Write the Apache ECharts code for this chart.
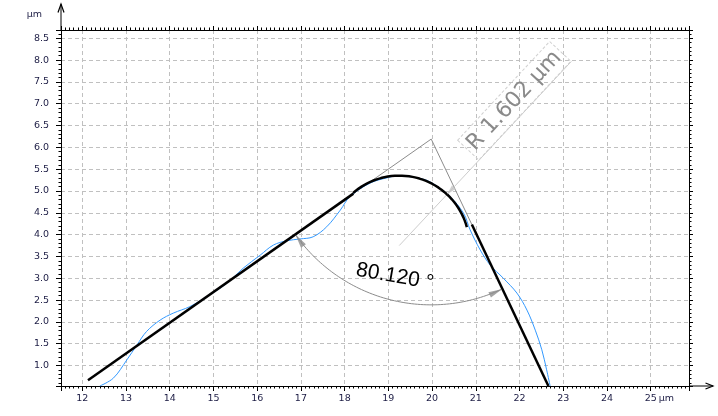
<!DOCTYPE html>
<html><head><meta charset="utf-8">
<script src="https://cdn.jsdelivr.net/npm/echarts@6/dist/echarts.min.js"></script>
<style>html,body{margin:0;padding:0;background:#fff}#c{width:718px;height:416px}</style>
</head><body><div id="c"></div>
<script>
// ---- data ----
const profileX = [12.40,12.71,13.02,13.25,13.47,13.78,14.08,14.46,14.85,15.30,15.68,16.07,16.37,16.68,16.98,17.28,17.59,17.90,18.12,18.58,19.00,19.23,19.60,19.95,20.41,20.72,20.87,21.10,21.33,21.63,21.94,22.17,22.36,22.51,22.62,22.70];
const profileY = [0.53,0.71,1.13,1.47,1.78,2.04,2.20,2.35,2.58,2.88,3.23,3.53,3.76,3.86,3.90,3.95,4.18,4.56,4.87,5.18,5.31,5.35,5.31,5.21,4.87,4.49,4.11,3.65,3.30,3.00,2.66,2.27,1.81,1.36,0.90,0.53];
const leftFitX = [12.13, 18.20];
const leftFitY = [0.66, 4.94];
const rightFitX = [20.91, 22.66];
const rightFitY = [4.23, 0.53];
const apexPoint = [19.98, 6.19];
const circleCenter = [19.25, 3.75];
const circleRadius = 1.602;
const circleArcDeg = [131.3, 15.3];
const angleValue = 80.120;
const angleArcRadius = 3.80;
const angleLabelDist = 3.26;
const radiusLineDeg = 47;
const radiusLineLength = 5.77;
const radiusLabelAlong = 4.22;
const radiusLabelNormal = 0.34;
const xRange = [11.513, 25.876];
const yRange = [0.53, 8.69];
const xTickValues = [12,13,14,15,16,17,18,19,20,21,22,23,24,25];
const xTickLabels = ['12','13','14','15','16','17','18','19','20','21','22','23','24','25'];
const yTickValues = [1.0,1.5,2.0,2.5,3.0,3.5,4.0,4.5,5.0,5.5,6.0,6.5,7.0,7.5,8.0,8.5];
const yTickLabels = ['1.0','1.5','2.0','2.5','3.0','3.5','4.0','4.5','5.0','5.5','6.0','6.5','7.0','7.5','8.0','8.5'];
const unitText = 'µm';

// ---- helpers ----
const D = Math.PI/180;
function zip(a,b){return a.map((v,i)=>[v,b[i]]);}
function arcPts(c,r,a0,a1,n){const p=[];for(let i=0;i<=n;i++){const a=(a0+(a1-a0)*i/n)*D;p.push([c[0]+r*Math.cos(a),c[1]+r*Math.sin(a)]);}return p;}
function lookup(vals,labels,v){for(let i=0;i<vals.length;i++){if(Math.abs(vals[i]-v)<1e-6)return labels[i];}return '';}

const a0 = Math.atan2(leftFitY[0]-apexPoint[1], leftFitX[0]-apexPoint[0])/D + 360;
const a1 = Math.atan2(rightFitY[1]-apexPoint[1], rightFitX[1]-apexPoint[0])/D + 360;

function arrowItem(tip, dirDeg, halfLen, size, color){
  const d=[Math.cos(dirDeg*D),Math.sin(dirDeg*D)];
  return {value:[tip[0]-halfLen*d[0], tip[1]-halfLen*d[1]], symbolRotate: dirDeg-90, symbolSize:size, itemStyle:{color:color}};
}
const pL=[apexPoint[0]+angleArcRadius*Math.cos(a0*D), apexPoint[1]+angleArcRadius*Math.sin(a0*D)];
const pR=[apexPoint[0]+angleArcRadius*Math.cos(a1*D), apexPoint[1]+angleArcRadius*Math.sin(a1*D)];
const dirL = Math.atan2(-Math.cos(a0*D), Math.sin(a0*D))/D;
const dirR = Math.atan2(Math.cos(a1*D), -Math.sin(a1*D))/D;
const rq=[circleCenter[0]+circleRadius*Math.cos(radiusLineDeg*D), circleCenter[1]+circleRadius*Math.sin(radiusLineDeg*D)];
const rEnd=[circleCenter[0]+radiusLineLength*Math.cos(radiusLineDeg*D), circleCenter[1]+radiusLineLength*Math.sin(radiusLineDeg*D)];

const labelFont = 'DejaVu Sans';
const labelColor = '#1c1c44';
function axisBase(extra){
  return Object.assign({
    type:'value', scale:true,
    axisLine:{show:true,onZero:false,lineStyle:{color:'#000',width:1}},
    axisTick:{show:true,inside:false,length:5,lineStyle:{color:'#000',width:1}},
    splitLine:{show:false},
    minorSplitLine:{show:false},
    axisLabel:{show:false},
  }, extra);
}
const gridSplit = {show:true,lineStyle:{color:'#c0c0c0',width:1,type:[4,3]}};

const option = {
  animation:false,
  backgroundColor:'#fff',
  grid:{left:61,right:29,top:30,bottom:30,containLabel:false,outerBoundsMode:'none'},
  xAxis:[
    axisBase({position:'bottom',min:xRange[0],max:xRange[1],splitNumber:14,minInterval:1,maxInterval:1,
      minorTick:{show:true,splitNumber:10,length:2.5,lineStyle:{color:'#000'}},
      splitLine:gridSplit,
      axisLabel:{show:true,showMinLabel:false,showMaxLabel:false,margin:8,color:labelColor,fontFamily:labelFont,fontSize:9.5,
        formatter:v=>lookup(xTickValues,xTickLabels,v)}}),
    axisBase({position:'top',min:xRange[0],max:xRange[1],splitNumber:14,minInterval:1,maxInterval:1,
      axisTick:{show:true,inside:false,length:4,lineStyle:{color:'#000'}},
      minorTick:{show:true,splitNumber:10,length:2.5,lineStyle:{color:'#000'}}})
  ],
  yAxis:[
    axisBase({position:'left',min:yRange[0],max:yRange[1],splitNumber:16,minInterval:0.5,maxInterval:0.5,
      minorTick:{show:true,splitNumber:5,length:2.5,lineStyle:{color:'#000'}},
      splitLine:gridSplit,
      axisLabel:{show:true,showMinLabel:false,showMaxLabel:false,margin:12,color:labelColor,fontFamily:labelFont,fontSize:9.5,
        formatter:v=>lookup(yTickValues,yTickLabels,v)}}),
    axisBase({position:'right',min:yRange[0],max:yRange[1],splitNumber:16,minInterval:0.5,maxInterval:0.5,
      axisTick:{show:true,inside:false,length:4,lineStyle:{color:'#000'}},
      minorTick:{show:true,splitNumber:5,length:2.5,lineStyle:{color:'#000'}}})
  ],
  series:[
    {type:'line',data:[[leftFitX[1],leftFitY[1]],apexPoint,[rightFitX[0],rightFitY[0]]],symbol:'none',lineStyle:{color:'#8c8c8c',width:1},z:2},
    {type:'line',data:[circleCenter,rEnd],symbol:'none',lineStyle:{color:'#cdcdcd',width:1},z:2},
    {type:'line',data:arcPts(apexPoint,angleArcRadius,a0,a1,80),symbol:'none',lineStyle:{color:'#8c8c8c',width:1},z:2},
    {type:'line',data:zip(profileX,profileY),smooth:0.35,symbol:'none',lineStyle:{color:'#3399ff',width:1},z:3},
    {type:'line',data:zip(leftFitX,leftFitY),symbol:'none',lineStyle:{color:'#000',width:2.5},z:4},
    {type:'line',data:zip(rightFitX,rightFitY),symbol:'none',lineStyle:{color:'#000',width:2.5},z:4},
    {type:'line',data:arcPts(circleCenter,circleRadius,circleArcDeg[0],circleArcDeg[1],80),symbol:'none',lineStyle:{color:'#000',width:2.5},z:4},
    {type:'scatter',symbol:'triangle',z:5,silent:true,data:[
      arrowItem(pL,dirL,0.16,[6,14],'#8c8c8c'),
      arrowItem(pR,dirR,0.16,[6,14],'#8c8c8c'),
      arrowItem(rq,radiusLineDeg+180,0.11,[5,10],'#c4c4c4')
    ]}
  ]
};

const chart = echarts.init(document.getElementById('c'),null,{renderer:'canvas'});
chart.setOption(option);

const pMin = chart.convertToPixel({gridIndex:0},[xRange[0],yRange[0]]);
const pMax = chart.convertToPixel({gridIndex:0},[xRange[1],yRange[1]]);
const p25 = chart.convertToPixel({gridIndex:0},[xTickValues[xTickValues.length-1],yRange[0]]);
const dR=[Math.cos(radiusLineDeg*D),Math.sin(radiusLineDeg*D)], nR=[-dR[1],dR[0]];
const boxC = chart.convertToPixel({gridIndex:0},[circleCenter[0]+radiusLabelAlong*dR[0]+radiusLabelNormal*nR[0], circleCenter[1]+radiusLabelAlong*dR[1]+radiusLabelNormal*nR[1]]);
const bis = (a0+a1)/2;
const angC = chart.convertToPixel({gridIndex:0},[apexPoint[0]+angleLabelDist*Math.cos(bis*D), apexPoint[1]+angleLabelDist*Math.sin(bis*D)]);

chart.setOption({graphic:[
  {type:'polyline',shape:{points:[[pMin[0],pMax[1]],[pMin[0],pMax[1]-26]]},style:{stroke:'#000',lineWidth:1,fill:null},z:10},
  {type:'polyline',shape:{points:[[pMin[0]-3,pMax[1]-17.5],[pMin[0],pMax[1]-26],[pMin[0]+3,pMax[1]-17.5]]},style:{stroke:'#000',lineWidth:1.2,fill:null},z:10},
  {type:'polyline',shape:{points:[[pMax[0],pMin[1]],[pMax[0]+24,pMin[1]]]},style:{stroke:'#000',lineWidth:1,fill:null},z:10},
  {type:'polyline',shape:{points:[[pMax[0]+16.5,pMin[1]-3],[pMax[0]+24,pMin[1]],[pMax[0]+16.5,pMin[1]+3]]},style:{stroke:'#000',lineWidth:1.2,fill:null},z:10},
  {type:'text',x:pMin[0]-19,y:pMax[1]-15,style:{text:unitText,align:'right',verticalAlign:'middle',textAlign:'right',textVerticalAlign:'middle',font:'9.5px "DejaVu Sans"',fill:labelColor},z:10},
  {type:'text',x:p25[0]+8,y:pMin[1]+12.5,style:{text:unitText,align:'left',verticalAlign:'middle',textAlign:'left',textVerticalAlign:'middle',font:'9.5px "DejaVu Sans"',fill:labelColor},z:10},
  {type:'group',x:boxC[0],y:boxC[1],rotation:radiusLineDeg*D,z:10,children:[
    {type:'rect',shape:{x:-67.5,y:-14.5,width:135,height:29},style:{fill:'rgba(255,255,255,0)',stroke:'#d0d0d0',lineWidth:1,lineDash:[3,2]}},
    {type:'text',x:0,y:0,style:{text:'R '+circleRadius.toFixed(3)+' '+unitText,align:'center',verticalAlign:'middle',textAlign:'center',textVerticalAlign:'middle',font:'22px "DejaVu Sans"',fill:'#8a8a8a'}}
  ]},
  {type:'text',x:angC[0],y:angC[1],rotation:-10*D,z:10,style:{text:angleValue.toFixed(3)+' °',align:'center',verticalAlign:'middle',textAlign:'center',textVerticalAlign:'middle',font:'21px "Liberation Sans"',fill:'#000'}}
]});
</script>
</body></html>
